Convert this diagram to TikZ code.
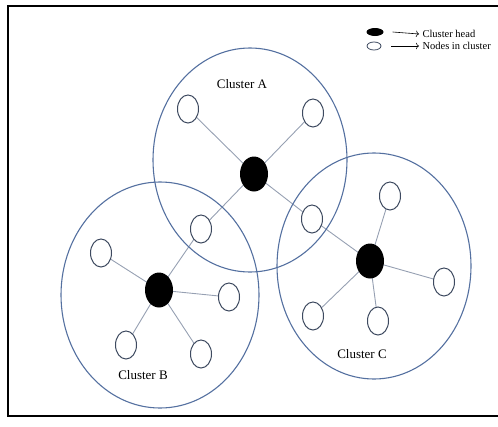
\documentclass[tikz,border=0pt]{standalone}
\usepackage{fontspec}
\setmainfont{Liberation Serif}
\usepackage{xcolor}
\usetikzlibrary{shapes,arrows,positioning,calc,arrows.meta}
\pgfdeclarelayer{links}
\pgfsetlayers{links,main}
\definecolor{ringblue}{RGB}{84,112,160}
\definecolor{linkgray}{RGB}{150,160,178}
\definecolor{nodegray}{RGB}{62,74,96}
\begin{document}
\begin{tikzpicture}[x=1pt,y=-1pt,
    ring/.style={draw=ringblue, line width=1.1pt},
    member/.style={ellipse, draw=nodegray, fill=white, line width=1pt, minimum width=21pt, minimum height=28pt, inner sep=0pt},
    head/.style={ellipse, fill=black, minimum width=28pt, minimum height=35pt, inner sep=0pt},
    link/.style={draw=linkgray, line width=0.9pt},
    label/.style={font=\fontsize{13}{15}\selectfont},
    keytext/.style={anchor=west, font=\fontsize{10.5}{12}\selectfont}]
    \useasboundingbox (0,0) rectangle (498,426);
    \draw[line width=2pt] (520,6) -- (8,6) -- (8,416) -- (520,416);

    % the three clusters
    \draw[ring] (250,160) ellipse (97 and 112);
    \draw[ring] (160,295) ellipse (99 and 113);
    \draw[ring] (374,266) ellipse (97 and 113);

    % cluster heads
    \node[head] (headA) at (254,174) {};
    \node[head] (headB) at (159,290) {};
    \node[head] (headC) at (370,261) {};

    % members
    \node[member] (a1) at (188,109) {};
    \node[member] (a2) at (313,113) {};
    \node[member] (ab) at (201,229) {};
    \node[member] (ac) at (312,219) {};
    \node[member] (b1) at (101,253) {};
    \node[member] (b2) at (229,297) {};
    \node[member] (b3) at (126,345) {};
    \node[member] (b4) at (201,354) {};
    \node[member] (c1) at (390,196) {};
    \node[member] (c2) at (444,282) {};
    \node[member] (c3) at (313,316) {};
    \node[member] (c4) at (378,321) {};

    % links, kept behind the nodes
    \begin{pgfonlayer}{links}
    \foreach \h/\m in {headA/a1,headA/a2,headA/ab,headA/ac,
                       headB/b1,headB/b2,headB/b3,headB/b4,headB/ab,
                       headC/c1,headC/c2,headC/c3,headC/c4,headC/ac}
        \path[link] (\h.center) -- (\m.center);
    \end{pgfonlayer}

    \node[label] (nameA) at (242,84) {Cluster A};
    \node[label] (nameB) at (143,375) {Cluster B};
    \node[label] (nameC) at (362,354) {Cluster C};

    % legend
    \node[ellipse, fill=black, minimum width=17pt, minimum height=8pt, inner sep=0pt] (keyhead) at (375,32) {};
    \node[ellipse, draw=nodegray, line width=0.8pt, minimum width=14pt, minimum height=8pt, inner sep=0pt] (keymember) at (374,46) {};
    \node[keytext] (txthead) at (419,34) {Cluster head};
    \node[keytext] (txtmember) at (419,46) {Nodes in cluster};
    \draw[-{To[length=3pt]}, line width=0.6pt] ([xshift=9pt]keyhead.east) -- (txthead.west);
    \draw[-{To[length=3pt]}, line width=0.6pt] ([xshift=10pt]keymember.east) -- (txtmember.west);
\end{tikzpicture}
\end{document}
